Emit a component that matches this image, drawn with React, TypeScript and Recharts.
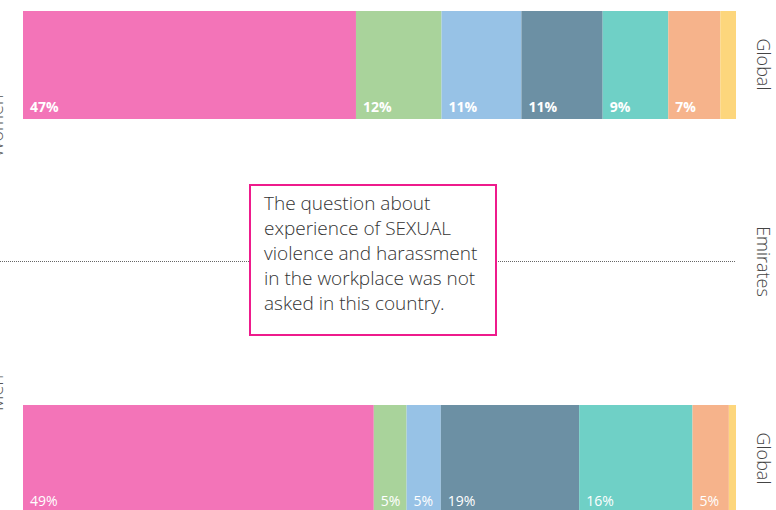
import { BarChart, Bar, XAxis, YAxis, LabelList, ReferenceLine } from "recharts";

const ROW_LABELS = ["Global", "Emirates", "Global"];
const SEGMENT_KEYS = ["s1", "s2", "s3", "s4", "s5", "s6", "s7"];
const SEGMENT_COLORS = [
  "#f374b8",
  "#a9d39b",
  "#97c2e6",
  "#6c90a4",
  "#6fd0c6",
  "#f6b38b",
  "#fdd67c",
];
// shares per segment (%)
const WOMEN_GLOBAL = [46.7, 12.0, 11.2, 11.4, 9.2, 7.3, 2.2];
const MEN_GLOBAL = [49.2, 4.6, 4.8, 19.4, 15.9, 5.1, 1.0];
const SIDE_LABELS = [
  { text: "Women", y: 126 },
  { text: "Men", y: 393 },
];
const NOTE_LINES = [
  "The question about",
  "experience of SEXUAL",
  "violence and harassment",
  "in the workplace was not",
  "asked in this country.",
];

const toRow = (idx: number, values: number[] | null) => {
  const row: Record<string, number> = { idx };
  if (values) SEGMENT_KEYS.forEach((k, i) => (row[k] = values[i]));
  return row;
};

const data = [toRow(0, WOMEN_GLOBAL), toRow(1, null), toRow(2, MEN_GLOBAL)];

const FONT = "'Open Sans', 'Noto Sans', sans-serif";

function RowTick({ x, y, payload }: any) {
  return (
    <text
      transform={`translate(${x + 20},${y}) rotate(90)`}
      textAnchor="middle"
      dominantBaseline="central"
      fontFamily={FONT}
      fontWeight={300}
      fontSize={18}
      fill="#444"
    >
      {ROW_LABELS[payload.value]}
    </text>
  );
}

function SegLabel(props: any) {
  const { x, y, height, value, index } = props;
  if (value == null || value < 3) return null;
  return (
    <text
      x={x + 7}
      y={y + height - 7}
      fill="#fff"
      fontFamily={FONT}
      fontWeight={index === 0 ? 700 : 500}
      fontSize={14}
    >
      {Math.round(value)}%
    </text>
  );
}

export default function App() {
  return (
    <div
      style={{
        position: "absolute",
        top: 0,
        left: 0,
        width: 776,
        height: 510,
        overflow: "hidden",
        background: "#fff",
      }}
    >
      <div style={{ position: "absolute", top: -34, left: 0 }}>
        <BarChart
          width={776}
          height={591}
          data={data}
          layout="vertical"
          barSize={108}
          margin={{ top: 0, right: 0, bottom: 0, left: 23 }}
        >
          <XAxis type="number" domain={[0, 100]} hide />
          <YAxis
            type="category"
            dataKey="idx"
            orientation="right"
            width={40}
            axisLine={false}
            tickLine={false}
            tick={<RowTick />}
          />
          <ReferenceLine
            y={1}
            ifOverflow="visible"
            shape={(p: any) => (
              <line
                x1={0}
                y1={p.y1}
                x2={Math.max(p.x1, p.x2)}
                y2={p.y1}
                stroke="#666"
                strokeWidth={1}
                strokeDasharray="1 1"
              />
            )}
          />
          {SEGMENT_KEYS.map((k, i) => (
            <Bar
              key={k}
              dataKey={k}
              stackId="a"
              fill={SEGMENT_COLORS[i]}
              isAnimationActive={false}
            >
              <LabelList dataKey={k} content={<SegLabel />} />
            </Bar>
          ))}
        </BarChart>
      </div>
      <svg
        width={20}
        height={510}
        style={{ position: "absolute", top: 0, left: 0 }}
      >
        {SIDE_LABELS.map((s) => (
          <text
            key={s.text}
            transform={`translate(3,${s.y}) rotate(-90)`}
            textAnchor="middle"
            fontFamily={FONT}
            fontWeight={300}
            fontSize={18}
            fill="#555"
          >
            {s.text}
          </text>
        ))}
      </svg>
      <div
        style={{
          position: "absolute",
          left: 249,
          top: 184,
          width: 248,
          height: 152,
          boxSizing: "border-box",
          border: "2.5px solid #ee1b8c",
          background: "#fff",
          padding: "5px 6px 0 13px",
          fontFamily: FONT,
          fontWeight: 300,
          fontSize: 19,
          lineHeight: "25px",
          color: "#333",
        }}
      >
        {NOTE_LINES.map((l) => (
          <div key={l} style={{ whiteSpace: "nowrap" }}>
            {l}
          </div>
        ))}
      </div>
    </div>
  );
}
